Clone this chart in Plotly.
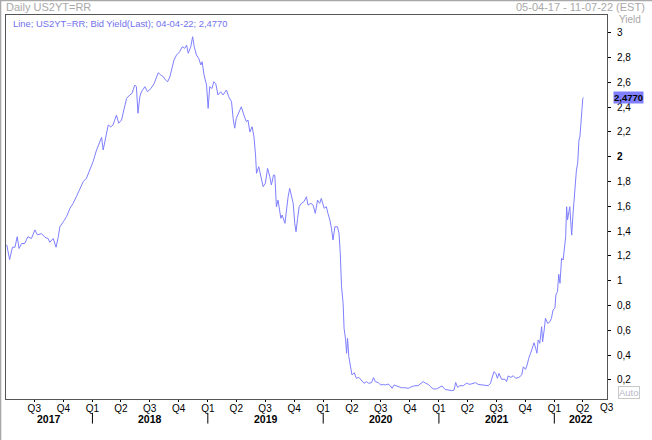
import plotly.graph_objects as go
import pandas as pd

# ---------------- data ----------------
dates = [
    "2017-04-05", "2017-04-14", "2017-04-23", "2017-05-01", "2017-05-08", "2017-05-14", "2017-05-22",
    "2017-06-01", "2017-06-11", "2017-06-22", "2017-07-03", "2017-07-11", "2017-07-24", "2017-08-04",
    "2017-08-14", "2017-08-19", "2017-08-30", "2017-09-08", "2017-09-15", "2017-09-20", "2017-10-01",
    "2017-10-11", "2017-10-22", "2017-11-01", "2017-11-11", "2017-11-22", "2017-12-03", "2017-12-13",
    "2017-12-24", "2018-01-03", "2018-01-14", "2018-01-24", "2018-01-30", "2018-02-04", "2018-02-15",
    "2018-02-20", "2018-02-28", "2018-03-07", "2018-03-18", "2018-03-25", "2018-04-03", "2018-04-11",
    "2018-04-19", "2018-04-29", "2018-05-06", "2018-05-15", "2018-05-20", "2018-05-25", "2018-05-31",
    "2018-06-05", "2018-06-16", "2018-06-24", "2018-07-05", "2018-07-15", "2018-07-28", "2018-08-05",
    "2018-08-13", "2018-08-20", "2018-08-27", "2018-09-03", "2018-09-10", "2018-09-16", "2018-09-24",
    "2018-10-04", "2018-10-12", "2018-10-20", "2018-10-26", "2018-10-31", "2018-11-08", "2018-11-14",
    "2018-11-19", "2018-11-26", "2018-12-03", "2018-12-10", "2018-12-14", "2018-12-20", "2018-12-28",
    "2019-01-02", "2019-01-07", "2019-01-14", "2019-01-20", "2019-01-26", "2019-02-02", "2019-02-11",
    "2019-02-18", "2019-03-01", "2019-03-08", "2019-03-17", "2019-03-22", "2019-03-27", "2019-04-01",
    "2019-04-09", "2019-04-17", "2019-04-25", "2019-05-03", "2019-05-08", "2019-05-14", "2019-05-21",
    "2019-05-27", "2019-06-01", "2019-06-04", "2019-06-11", "2019-06-18", "2019-06-25", "2019-07-02",
    "2019-07-09", "2019-07-16", "2019-07-21", "2019-07-28", "2019-08-01", "2019-08-06", "2019-08-11",
    "2019-08-20", "2019-08-24", "2019-09-02", "2019-09-07", "2019-09-12", "2019-09-17", "2019-09-23",
    "2019-09-28", "2019-10-03", "2019-10-07", "2019-10-12", "2019-10-17", "2019-10-24", "2019-11-01",
    "2019-11-09", "2019-11-14", "2019-11-23", "2019-11-30", "2019-12-07", "2019-12-14", "2019-12-21",
    "2019-12-26", "2020-01-04", "2020-01-11", "2020-01-16", "2020-01-22", "2020-01-27", "2020-02-01",
    "2020-02-07", "2020-02-15", "2020-02-20", "2020-02-24", "2020-02-28", "2020-03-04", "2020-03-07",
    "2020-03-12", "2020-03-15", "2020-03-18", "2020-03-22", "2020-03-27", "2020-04-01", "2020-04-08",
    "2020-04-15", "2020-04-23", "2020-05-01", "2020-05-09", "2020-05-17", "2020-05-24", "2020-06-02",
    "2020-06-08", "2020-06-14", "2020-06-23", "2020-07-01", "2020-07-09", "2020-07-16", "2020-07-24",
    "2020-08-01", "2020-08-06", "2020-08-12", "2020-08-20", "2020-08-25", "2020-09-05", "2020-09-15",
    "2020-09-26", "2020-10-06", "2020-10-17", "2020-10-27", "2020-11-07", "2020-11-12", "2020-11-20",
    "2020-11-28", "2020-12-06", "2020-12-14", "2020-12-24", "2021-01-04", "2021-01-11", "2021-01-20",
    "2021-01-30", "2021-02-10", "2021-02-18", "2021-02-23", "2021-03-01", "2021-03-08", "2021-03-19",
    "2021-03-29", "2021-04-09", "2021-04-20", "2021-04-27", "2021-05-05", "2021-05-16", "2021-05-26",
    "2021-06-06", "2021-06-13", "2021-06-18", "2021-06-24", "2021-06-30", "2021-07-05", "2021-07-10",
    "2021-07-18", "2021-07-29", "2021-08-03", "2021-08-08", "2021-08-17", "2021-08-24", "2021-09-01",
    "2021-09-11", "2021-09-20", "2021-09-25", "2021-10-02", "2021-10-08", "2021-10-12", "2021-10-18",
    "2021-10-23", "2021-10-29", "2021-11-03", "2021-11-07", "2021-11-11", "2021-11-16", "2021-11-22",
    "2021-11-25", "2021-11-30", "2021-12-04", "2021-12-11", "2021-12-18", "2021-12-23", "2021-12-28",
    "2022-01-03", "2022-01-06", "2022-01-11", "2022-01-15", "2022-01-19", "2022-01-24", "2022-01-29",
    "2022-02-03", "2022-02-06", "2022-02-09", "2022-02-12", "2022-02-16", "2022-02-19", "2022-02-22",
    "2022-02-25", "2022-03-01", "2022-03-05", "2022-03-09", "2022-03-12", "2022-03-16", "2022-03-20",
    "2022-03-23", "2022-03-26", "2022-03-29", "2022-04-01", "2022-04-04",
]

yields = [
    1.29, 1.17, 1.27, 1.27, 1.355, 1.26, 1.30,
    1.30, 1.355, 1.34, 1.41, 1.37, 1.38, 1.35,
    1.34, 1.31, 1.34, 1.27, 1.355, 1.435, 1.476,
    1.516, 1.584, 1.624, 1.677, 1.745, 1.80, 1.826,
    1.893, 1.96, 2.054, 2.12, 2.156, 2.054, 2.19,
    2.256, 2.24, 2.256, 2.336, 2.27, 2.296, 2.377,
    2.47, 2.498, 2.51, 2.578, 2.565, 2.35, 2.484,
    2.524, 2.565, 2.524, 2.55, 2.59, 2.677, 2.66,
    2.645, 2.62, 2.605, 2.645, 2.713, 2.78, 2.82,
    2.847, 2.887, 2.874, 2.90, 2.834, 2.887, 2.968,
    2.887, 2.82, 2.794, 2.74, 2.766, 2.66, 2.578,
    2.39, 2.565, 2.55, 2.605, 2.59, 2.498, 2.524,
    2.498, 2.538, 2.484, 2.444, 2.31, 2.23, 2.31,
    2.35, 2.403, 2.336, 2.282, 2.296, 2.20, 2.242,
    2.16, 2.014, 1.866, 1.92, 1.84, 1.758, 1.786,
    1.906, 1.84, 1.772, 1.853, 1.85, 1.597, 1.65,
    1.503, 1.53, 1.463, 1.597, 1.677, 1.745, 1.677,
    1.624, 1.463, 1.395, 1.503, 1.597, 1.624, 1.637,
    1.677, 1.61, 1.624, 1.61, 1.543, 1.65, 1.624,
    1.664, 1.584, 1.597, 1.543, 1.49, 1.423, 1.328,
    1.435, 1.435, 1.382, 1.221, 0.952, 0.818, 0.616,
    0.522, 0.415, 0.535, 0.387, 0.306, 0.24, 0.258,
    0.213, 0.22, 0.199, 0.173, 0.186, 0.173, 0.178,
    0.218, 0.186, 0.178, 0.159, 0.163, 0.159, 0.167,
    0.151, 0.132, 0.159, 0.151, 0.151, 0.137, 0.137,
    0.132, 0.145, 0.153, 0.153, 0.173, 0.186, 0.173,
    0.164, 0.145, 0.127, 0.127, 0.14, 0.151, 0.124,
    0.118, 0.113, 0.118, 0.18, 0.14, 0.153, 0.153,
    0.173, 0.164, 0.173, 0.178, 0.164, 0.159, 0.159,
    0.153, 0.173, 0.213, 0.266, 0.253, 0.213, 0.253,
    0.205, 0.205, 0.186, 0.232, 0.22, 0.234, 0.213,
    0.22, 0.24, 0.306, 0.285, 0.328, 0.374, 0.415,
    0.455, 0.50, 0.455, 0.415, 0.522, 0.495, 0.629,
    0.508, 0.602, 0.697, 0.656, 0.669, 0.697, 0.764,
    0.778, 0.885, 0.911, 1.052, 0.979, 1.181, 1.167,
    1.288, 1.355, 1.597, 1.49, 1.556, 1.597, 1.476,
    1.368, 1.53, 1.677, 1.745, 1.893, 1.947, 2.135,
    2.161, 2.323, 2.363, 2.47, 2.477,
]

quarter_starts = ["2017-07-01", "2017-10-01", "2018-01-01", "2018-04-01", "2018-07-01", "2018-10-01",
                  "2019-01-01", "2019-04-01", "2019-07-01", "2019-10-01", "2020-01-01", "2020-04-01",
                  "2020-07-01", "2020-10-01", "2021-01-01", "2021-04-01", "2021-07-01", "2021-10-01",
                  "2022-01-01", "2022-04-01"]
quarter_labels = ["Q3", "Q4", "Q1", "Q2", "Q3", "Q4", "Q1", "Q2", "Q3", "Q4",
                  "Q1", "Q2", "Q3", "Q4", "Q1", "Q2", "Q3", "Q4", "Q1", "Q2"]
years = [2017, 2018, 2019, 2020, 2021, 2022]

y_tick_values = [0.2, 0.4, 0.6, 0.8, 1.0, 1.2, 1.4, 1.6, 1.8, 2.0, 2.2, 2.4, 2.6, 2.8, 3.0]
y_tick_labels = ["0,2", "0,4", "0,6", "0,8", "1", "1,2", "1,4", "1,6", "1,8", "<b>2</b>",
                 "2,2", "2,4", "2,6", "2,8", "3"]

last_value = 2.4770
last_label = "2,4770"
x_range = ["2017-04-02 14:00", "2022-06-16 17:00"]
y_range = [0.046, 3.143]

# ---------------- styling ----------------
LINE = "#7f7fff"
GRAY = "#a8a8a8"
FONT = "Liberation Sans"

fig = go.Figure()
fig.add_trace(go.Scatter(x=pd.to_datetime(dates), y=yields, mode="lines",
                         line=dict(color=LINE, width=1), hoverinfo="x+y",
                         showlegend=False))

fig.update_layout(
    width=652, height=440, autosize=False,
    margin=dict(l=6, r=45, t=15, b=41, pad=0),
    paper_bgcolor="white", plot_bgcolor="white",
    font=dict(family=FONT, size=10, color="black"),
    xaxis=dict(range=x_range, type="date", showgrid=False, zeroline=False,
               tickvals=quarter_starts, ticktext=quarter_labels,
               ticks="outside", ticklen=2, tickcolor="black",
               ticklabelstandoff=-2,
               tickfont=dict(family=FONT, size=10, color="black"),
               showline=True, linecolor="#555555", linewidth=1, mirror=True),
    yaxis=dict(range=y_range, side="right", showgrid=False, zeroline=False,
               tickvals=y_tick_values, ticktext=y_tick_labels,
               ticks="outside", ticklen=3, tickcolor="black",
               ticklabelstandoff=4,
               tickfont=dict(family=FONT, size=10, color="black"),
               showline=True, linecolor="#555555", linewidth=1, mirror=True),
)

x0 = pd.Timestamp(x_range[0])
x1 = pd.Timestamp(x_range[1])

shapes = []
annotations = []
for yr in years:
    start = pd.Timestamp(f"{yr}-01-01")
    end = pd.Timestamp(f"{yr + 1}-01-01")
    if x0 <= start <= x1:
        shapes.append(dict(type="line", xref="x", yref="paper", x0=start, x1=start,
                           y0=-0.036, y1=-0.064, line=dict(color="black", width=1)))
    vis_a = max(start, x0)
    vis_b = min(end, x1)
    mid = vis_a + (vis_b - vis_a) / 2
    annotations.append(dict(x=mid, y=-0.053, xref="x", yref="paper", text=f"<b>{yr}</b>",
                            showarrow=False, xanchor="center", yanchor="middle",
                            font=dict(family=FONT, size=10.5, color="black")))

# outer frame lines
shapes.append(dict(type="line", xref="paper", yref="paper", x0=-0.0095, x1=-0.0095, y0=-0.11, y1=1.04,
                   line=dict(color=GRAY, width=2)))
shapes.append(dict(type="line", xref="paper", yref="paper", x0=-0.01, x1=1.08, y0=1.038, y1=1.038,
                   line=dict(color=GRAY, width=1.5)))
fig.update_layout(shapes=shapes)

annotations += [
    dict(x=1, y=-0.021, xref="paper", yref="paper", text="Q3", showarrow=False,
         xanchor="center", yanchor="middle", font=dict(family=FONT, size=10, color="black")),
    dict(x=-0.004, y=1.021, xref="paper", yref="paper", text="Daily US2YT=RR", showarrow=False,
         xanchor="left", yanchor="middle", font=dict(family=FONT, size=11, color=GRAY)),
    dict(x=1.066, y=1.021, xref="paper", yref="paper", text="05-04-17 - 11-07-22 (EST)",
         showarrow=False, xanchor="right", yanchor="middle",
         font=dict(family=FONT, size=11, color=GRAY)),
    dict(x=0.008, y=0.979, xref="paper", yref="paper",
         text=f"Line; US2YT=RR; Bid Yield(Last); 04-04-22; {last_label}", showarrow=False,
         xanchor="left", yanchor="middle", font=dict(family=FONT, size=9.4, color="#7272ee")),
    dict(x=1.016, y=0.988, xref="paper", yref="paper", text="Yield", showarrow=False,
         xanchor="left", yanchor="middle", font=dict(family=FONT, size=10, color=GRAY)),
    dict(x=1.036, y=0.016, xref="paper", yref="paper", text="Auto", showarrow=False,
         xanchor="center", yanchor="middle", bordercolor="#c8c8c8", borderwidth=1, borderpad=0,
         font=dict(family=FONT, size=9.5, color="#b8b8c8")),
    dict(x=1, y=last_value, xref="paper", yref="y", text=f"<b>{last_label}</b>", showarrow=False,
         xanchor="left", yanchor="middle", xshift=6, bgcolor="#8080ff", borderpad=0,
         font=dict(family=FONT, size=9.5, color="black")),
]
fig.update_layout(annotations=annotations)

fig.write_html("out.html", config={"displayModeBar": False},
               post_script="document.body.style.margin='0';")
